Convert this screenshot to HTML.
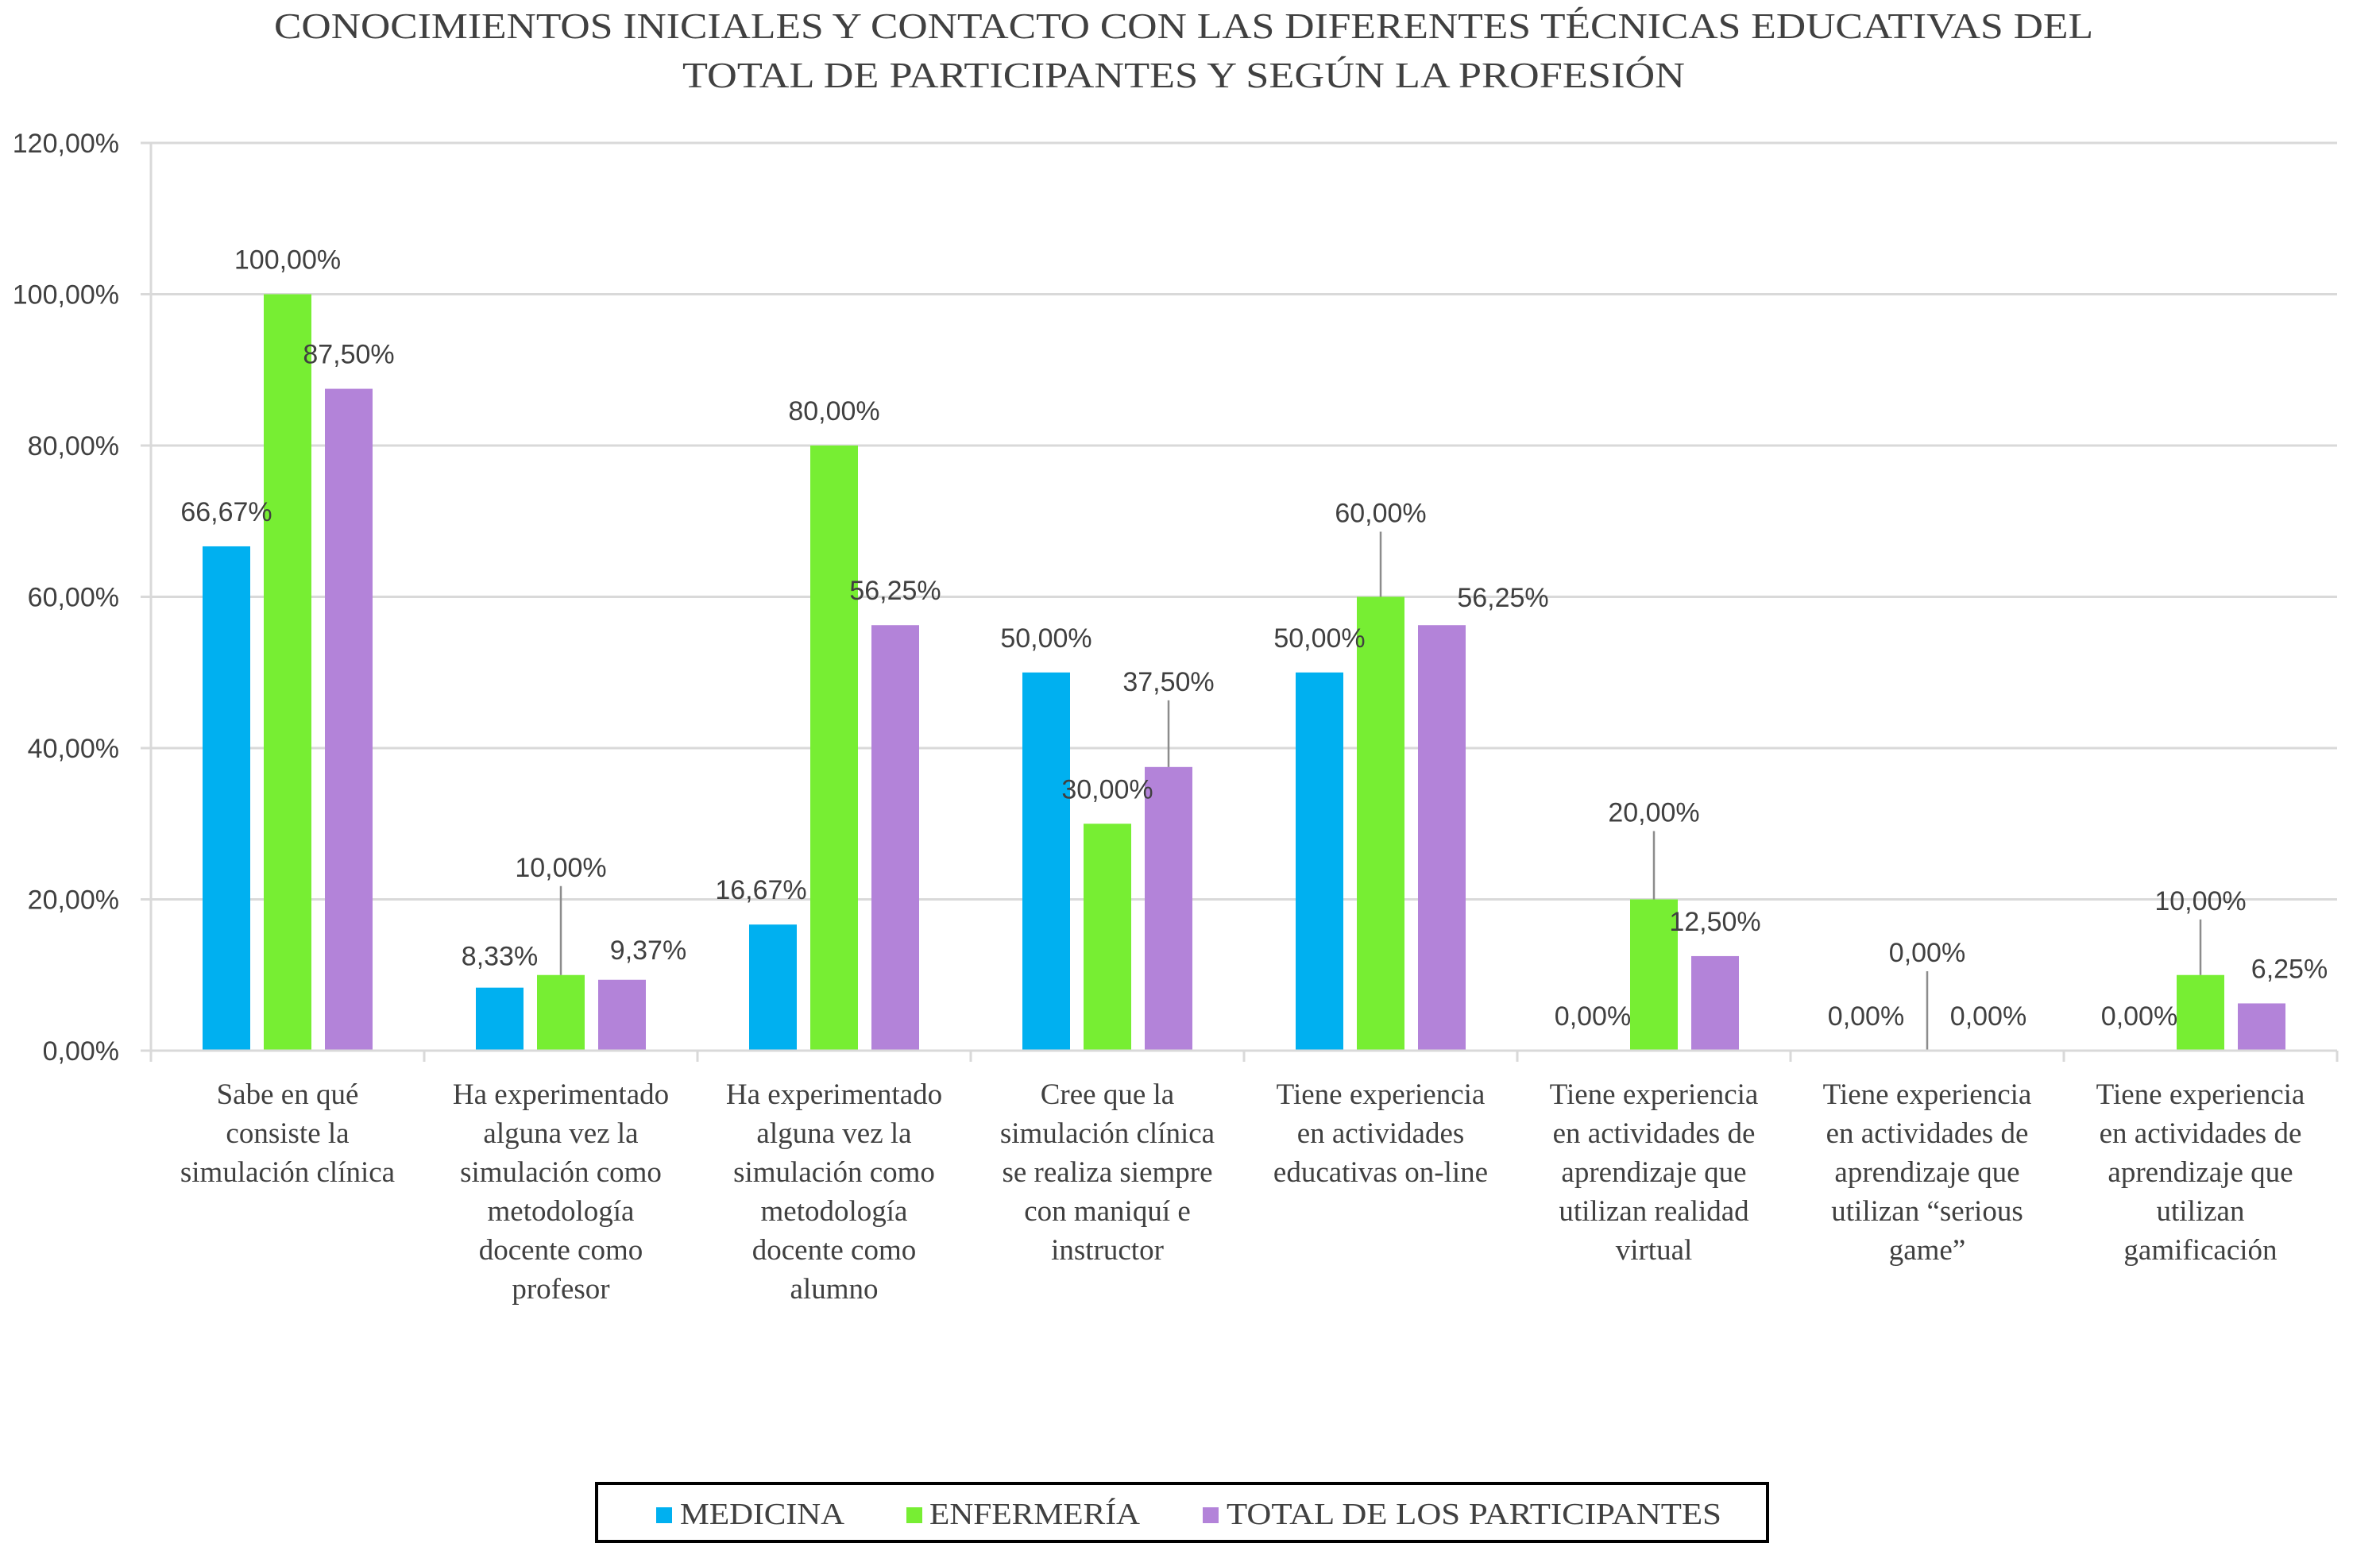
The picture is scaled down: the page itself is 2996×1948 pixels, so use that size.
<!DOCTYPE html>
<html><head><meta charset="utf-8">
<style>
html,body{margin:0;padding:0;background:#fff;}
svg{display:block;}
.t{font-family:"Liberation Serif",serif;fill:#404040;}
.v{font-family:"Liberation Sans",sans-serif;fill:#404040;}
</style></head>
<body>
<svg id="chart" width="2996" height="1948" viewBox="0 0 2996 1948" xmlns="http://www.w3.org/2000/svg">
<g>
<text class="t" x="1490" y="48" font-size="46" text-anchor="middle" fill="#404040" textLength="2290" lengthAdjust="spacingAndGlyphs">CONOCIMIENTOS INICIALES Y CONTACTO CON LAS DIFERENTES TÉCNICAS EDUCATIVAS DEL</text>
<text class="t" x="1490" y="110" font-size="46" text-anchor="middle" fill="#404040" textLength="1262" lengthAdjust="spacingAndGlyphs">TOTAL DE PARTICIPANTES Y SEGÚN LA PROFESIÓN</text>
</g>
<g id="grid"></g>
<g id="yaxis"></g>
<g id="bars"></g>
<g id="labels"></g>
<g id="xaxis"></g>
<g>
<rect x="751" y="1868" width="1474" height="73" fill="#fff" stroke="#000" stroke-width="4"/>
<g>
<rect x="826" y="1898" width="20" height="20" fill="#00B0F0"/>
<text class="t" x="856" y="1919" font-size="38" textLength="207" lengthAdjust="spacingAndGlyphs">MEDICINA</text></g>
<g>
<rect x="1141" y="1898" width="20" height="20" fill="#77EE33"/>
<text class="t" x="1170" y="1919" font-size="38" textLength="265" lengthAdjust="spacingAndGlyphs">ENFERMERÍA</text></g>
<g>
<rect x="1514" y="1898" width="20" height="20" fill="#B383D9"/>
<text class="t" x="1544" y="1919" font-size="38" textLength="623" lengthAdjust="spacingAndGlyphs">TOTAL DE LOS PARTICIPANTES</text></g>
</g>
</svg>
<script>
const categories = [
 ["Sabe en qué","consiste la","simulación clínica"],
 ["Ha experimentado","alguna vez la","simulación como","metodología","docente como","profesor"],
 ["Ha experimentado","alguna vez la","simulación como","metodología","docente como","alumno"],
 ["Cree que la","simulación clínica","se realiza siempre","con maniquí e","instructor"],
 ["Tiene experiencia","en actividades","educativas on-line"],
 ["Tiene experiencia","en actividades de","aprendizaje que","utilizan realidad","virtual"],
 ["Tiene experiencia","en actividades de","aprendizaje  que","utilizan  “serious","game”"],
 ["Tiene experiencia","en actividades de","aprendizaje que","utilizan","gamificación"]
];
const medicina = [66.67, 8.33, 16.67, 50, 50, 0, 0, 0];
const enfermeria = [100, 10, 80, 30, 60, 20, 0, 10];
const total = [87.5, 9.37, 56.25, 37.5, 56.25, 12.5, 0, 6.25];
const medicinaLabels = ["66,67%","8,33%","16,67%","50,00%","50,00%","0,00%","0,00%","0,00%"];
const enfermeriaLabels = ["100,00%","10,00%","80,00%","30,00%","60,00%","20,00%","0,00%","10,00%"];
const totalLabels = ["87,50%","9,37%","56,25%","37,50%","56,25%","12,50%","0,00%","6,25%"];
const yTicks = [0,20,40,60,80,100,120];
const yTickLabels = ["0,00%","20,00%","40,00%","60,00%","80,00%","100,00%","120,00%"];

const NS="http://www.w3.org/2000/svg";
const L=190,R=2942,Y0=1323,YT=180,YMAX=120;
const cw=(R-L)/categories.length;
function y(v){return Y0-(v/YMAX)*(Y0-YT);}
function xc(i){return L+cw*(i+0.5);}
function mk(tag,attrs,parent,txt){const e=document.createElementNS(NS,tag);for(const k in attrs)e.setAttribute(k,attrs[k]);if(txt!==undefined)e.textContent=txt;parent.appendChild(e);return e;}
const grid=document.getElementById('grid'),ya=document.getElementById('yaxis'),bars=document.getElementById('bars'),labs=document.getElementById('labels'),xa=document.getElementById('xaxis');
yTicks.forEach((t,i)=>{
 const g=mk('line',{x1:177,x2:R,y1:y(t),y2:y(t),stroke:'#d9d9d9','stroke-width':3},grid);
 
 
 const tx=mk('text',{x:150,y:y(t)+12,'text-anchor':'end','font-size':34,class:'v',fill:'#595959'},ya,yTickLabels[i]);
 
 
});
mk('line',{x1:190,x2:190,y1:YT,y2:Y0+14,stroke:'#d9d9d9','stroke-width':3},ya);
const series=[{d:medicina,l:medicinaLabels,c:'#00B0F0',n:'medicina',off:-77},{d:enfermeria,l:enfermeriaLabels,c:'#77EE33',n:'enfermeria',off:0},{d:total,l:totalLabels,c:'#B383D9',n:'total',off:77}];
const tweak={
 '1-1':[0,-92,1],'0-1':[0,4,0],'2-1':[33,6,0],
 '0-2':[-15,0,0],
 '2-3':[0,-64,1],
 '1-4':[0,-62,1],'2-4':[77,9,0],
 '1-5':[0,-66,1],
 '1-6':[0,-80,1],
 '1-7':[0,-50,1],'2-7':[35,0,0]
};
const BW=60;
series.forEach((s,si)=>{
 s.d.forEach((v,i)=>{
  const cx=xc(i)+s.off;
  const r=mk('rect',{x:cx-BW/2,y:y(v),width:BW,height:Y0-y(v),fill:s.c},bars);
  
  
  const tw=tweak[si+'-'+i]||[0,0,0];
  const ly=y(v)-44+tw[1];
  if(tw[2]){
   const ln=mk('line',{x1:cx,x2:cx,y1:ly+24,y2:y(v),stroke:'#8c8c8c','stroke-width':2.5},labs);
   
   
  }
  const t=mk('text',{x:cx+tw[0],y:ly+12,'text-anchor':'middle','font-size':34,class:'v',fill:'#404040'},labs,s.l[i]);
  
  
 });
});
mk('line',{x1:L,x2:R,y1:Y0,y2:Y0,stroke:'#d9d9d9','stroke-width':3},xa);
for(let i=0;i<=categories.length;i++){mk('line',{x1:L+cw*i,x2:L+cw*i,y1:Y0,y2:Y0+14,stroke:'#d9d9d9','stroke-width':3},xa);}
categories.forEach((lines,i)=>{
 const t=mk('text',{'text-anchor':'middle','font-size':37,class:'t',fill:'#404040'},xa);
 
 
 lines.forEach((ln,j)=>{mk('tspan',{x:xc(i),y:1390+j*49},t,ln);});
});
</script>
</body></html>
